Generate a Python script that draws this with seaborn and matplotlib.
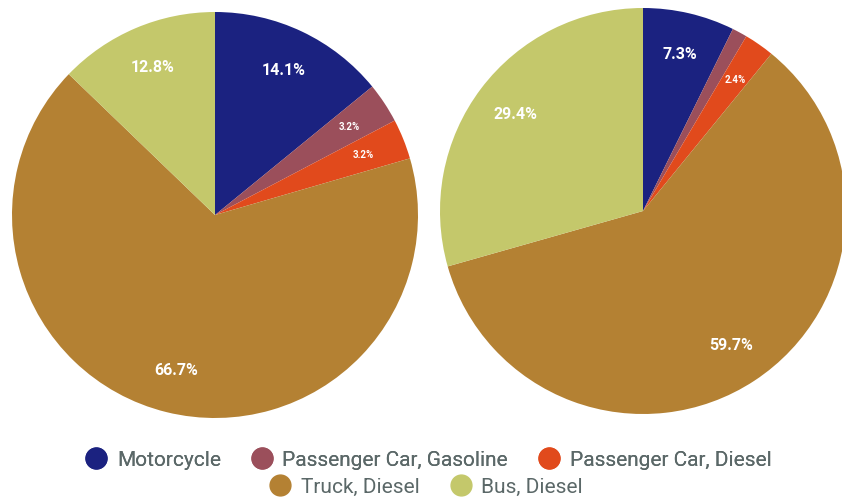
import matplotlib
matplotlib.use("Agg")
import matplotlib.pyplot as plt
from matplotlib.lines import Line2D
import seaborn as sns

sns.set_style("white")
plt.rcParams['font.family'] = ['Roboto', 'DejaVu Sans']

categories = ["Motorcycle", "Passenger Car, Gasoline", "Passenger Car, Diesel",
              "Truck, Diesel", "Bus, Diesel"]
left_values = [14.1, 3.2, 3.2, 66.7, 12.8]
right_values = [7.3, 1.2, 2.4, 59.7, 29.4]
colors = ["#1b2280", "#9b4f5b", "#e14a1c", "#b48133", "#c4c86b"]

W, H = 842, 498
fig = plt.figure(figsize=(W / 100, H / 100), dpi=100)


def draw_pie(cx, cy, r, values):
    ax = fig.add_axes([(cx - r) / W, (H - cy - r) / H, 2 * r / W, 2 * r / H])
    wedges, texts, autotexts = ax.pie(
        values, colors=colors, startangle=90, counterclock=False,
        radius=1.0, autopct=lambda p: f"{p:.1f}%" if p >= 2 else "",
        pctdistance=0.79, wedgeprops=dict(linewidth=0),
    )
    for v, t in zip(values, autotexts):
        t.set_color("white")
        t.set_fontweight("bold")
        t.set_fontsize(11.5 if v >= 5 else 7)
    ax.set_xlim(-1, 1)
    ax.set_ylim(-1, 1)
    ax.set_aspect("equal")
    ax.axis("off")
    return ax


draw_pie(215, 215, 203, left_values)
draw_pie(643, 211, 203, right_values)

handles = [Line2D([0], [0], marker="o", linestyle="", markersize=15,
                  markerfacecolor=c, markeredgecolor=c) for c in colors]

leg_kw = dict(frameon=False, fontsize=15, handletextpad=0.45,
              columnspacing=1.4, labelcolor="#5b6868", handlelength=1.1,
              borderaxespad=0, borderpad=0)
leg1 = fig.legend(handles[:3], categories[:3], ncol=3, loc="center",
                  bbox_to_anchor=(428 / W, 1 - 460 / H), **leg_kw)
fig.add_artist(leg1)
leg2 = fig.legend(handles[3:], categories[3:], ncol=2, loc="center",
                  bbox_to_anchor=(426 / W, 1 - 487 / H), **leg_kw)

fig.savefig("out.png", dpi=100)
